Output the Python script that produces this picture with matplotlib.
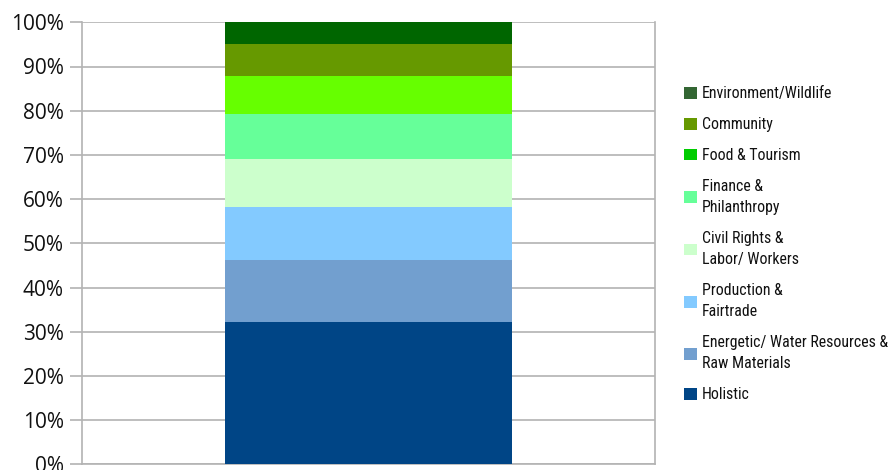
import matplotlib
matplotlib.use("Agg")
import matplotlib.pyplot as plt
from matplotlib.patches import Patch
from matplotlib.ticker import FuncFormatter

# categories, bottom to top
categories = [
    "Holistic",
    "Energetic/ Water Resources &\nRaw Materials",
    "Production &\nFairtrade",
    "Civil Rights &\nLabor/ Workers",
    "Finance &\nPhilanthropy",
    "Food & Tourism",
    "Community",
    "Environment/Wildlife",
]
shares = [32.2, 14.0, 12.0, 10.9, 10.2, 8.5, 7.3, 4.9]
bar_colors = ["#004586", "#729fcf", "#83caff", "#ccffcc",
              "#66ff99", "#66ff00", "#669900", "#006600"]
legend_colors = ["#004586", "#729fcf", "#83caff", "#ccffcc",
                 "#66ff99", "#00cc00", "#669900", "#336633"]
yticks = [0, 10, 20, 30, 40, 50, 60, 70, 80, 90, 100]

plt.rcParams["font.family"] = ["Open Sans", "DejaVu Sans"]
grid_col = "#b3b3b3"

fig = plt.figure(figsize=(8.91, 4.70), dpi=100)
ax = fig.add_axes([82 / 891, 1 - 464.3 / 470, (655 - 82) / 891, (464.3 - 22.3) / 470])

bottom = 0
for val, col in zip(shares, bar_colors):
    ax.bar(0, val, width=0.5, bottom=bottom, color=col, linewidth=0, zorder=3)
    bottom += val

ax.set_xlim(-0.5, 0.5)
ax.set_ylim(0, 100)
ax.set_yticks(yticks)
ax.yaxis.set_major_formatter(FuncFormatter(lambda v, p: f"{int(v)}%"))
ax.set_xticks([])
ax.grid(axis="y", color=grid_col, linewidth=1.2, zorder=0)
ax.tick_params(axis="y", length=9, width=1.2, color=grid_col, labelsize=15,
               labelcolor="#111111", pad=4)
for side in ["left", "right", "bottom"]:
    ax.spines[side].set_color(grid_col)
    ax.spines[side].set_linewidth(1.2)
ax.spines["top"].set_visible(False)

handles = [Patch(facecolor=c, edgecolor="none") for c in legend_colors]
leg = fig.legend(handles[::-1], categories[::-1], loc="upper left",
                 bbox_to_anchor=(678 / 891, 1 - 80 / 470), frameon=False,
                 prop={"family": ["Roboto Condensed", "DejaVu Sans"],
                       "stretch": "condensed", "weight": "normal", "size": 11.4},
                 handlelength=0.78, handleheight=0.78,
                 handletextpad=0.35, labelspacing=1.0, borderaxespad=0)
for t in leg.get_texts():
    t.set_color("#111111")
    t.set_linespacing(1.52)

fig.savefig("out.png", dpi=100)
